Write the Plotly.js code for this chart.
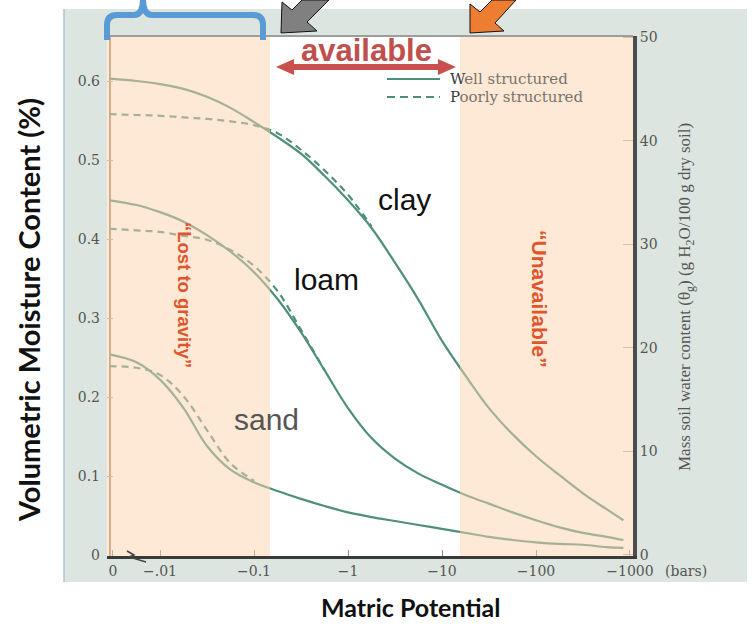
<!DOCTYPE html>
<html>
<head>
<meta charset="utf-8">
<script src="https://cdn.plot.ly/plotly-3.0.1.min.js"></script>
<style>html,body{margin:0;padding:0;background:#fff;}#chart{width:752px;height:624px;}</style>
</head>
<body>
<div id="chart"></div>
<script>
// ---- data: matric suction magnitude (bars, plotted on a log axis) and volumetric water content ----
const suctionBars = [0.0029, 0.00562, 0.01, 0.0178, 0.0316, 0.0562, 0.1, 0.178, 0.316, 0.562, 1, 1.78,
                     3.16, 5.62, 10, 17.8, 31.6, 56.2, 100, 178, 316, 562, 851];
const claySolid = [0.603, 0.600, 0.596, 0.590, 0.580, 0.566, 0.548, 0.529, 0.508, 0.480, 0.449, 0.414,
                   0.370, 0.323, 0.271, 0.227, 0.186, 0.153, 0.125, 0.101, 0.078, 0.058, 0.044];
const clayPoor  = [0.558, 0.557, 0.556, 0.554, 0.552, 0.549, 0.544, 0.534, 0.513, 0.487, 0.456, 0.416];
const loamSolid = [0.449, 0.443, 0.434, 0.422, 0.405, 0.384, 0.358, 0.324, 0.282, 0.234, 0.186, 0.148,
                   0.122, 0.103, 0.089, 0.076, 0.065, 0.054, 0.044, 0.035, 0.028, 0.023, 0.019];
const loamPoor  = [0.413, 0.411, 0.409, 0.404, 0.399, 0.386, 0.366, 0.334, 0.285, 0.234];
const sandSolid = [0.254, 0.244, 0.222, 0.186, 0.138, 0.108, 0.092, 0.081, 0.071, 0.062, 0.054, 0.048,
                   0.043, 0.038, 0.033, 0.028, 0.023, 0.019, 0.016, 0.014, 0.013, 0.010, 0.009];
const sandPoor  = [0.239, 0.237, 0.228, 0.201, 0.158, 0.116, 0.094];

const xTickVals = [0.00316, 0.01, 0.1, 1, 10, 100, 1000];
const xTickText = ['0', '\u2212.01', '\u22120.1', '\u22121', '\u221210', '\u2212100', '\u22121000'];
const yTickVals = [0, 0.1, 0.2, 0.3, 0.4, 0.5, 0.6];
const yTickText = ['0', '0.1', '0.2', '0.3', '0.4', '0.5', '0.6'];
const y2TickVals = [0, 10, 20, 30, 40, 50];
const y2TickText = ['0', '10', '20', '30', '40', '50'];

// ---- layout helpers (pixel -> paper) ----
const L = 107, R = 633, T = 36, B = 556;
const px = x => (x - L) / (R - L);
const py = y => (B - y) / (B - T);
const path = pts => 'M' + pts.map(p => px(p[0]).toFixed(5) + ',' + py(p[1]).toFixed(5)).join(' L') + ' Z';

const TEAL = '#4f8f7b';
function curve(y, dash) {
  return {x: suctionBars.slice(0, y.length), y: y, type: 'scatter', mode: 'lines', hoverinfo: 'skip', showlegend: false,
          line: {color: TEAL, width: 2.2, shape: 'spline', smoothing: 1, dash: dash ? '7px,5px' : 'solid'}};
}

const traces = [
  curve(claySolid, false), curve(clayPoor, true),
  curve(loamSolid, false), curve(loamPoor, true),
  curve(sandSolid, false), curve(sandPoor, true),
  {x: [null], y: [null], yaxis: 'y2', type: 'scatter', mode: 'lines', hoverinfo: 'skip', showlegend: false}
];

const shapes = [
  {type: 'rect', xref: 'paper', yref: 'paper', x0: px(64), x1: px(747), y0: py(582), y1: py(9),
   fillcolor: '#dce5df', line: {width: 0}, layer: 'below'},
  {type: 'line', xref: 'paper', yref: 'paper', x0: px(64), x1: px(64), y0: py(582), y1: py(9),
   line: {color: '#aac3dc', width: 1.5}, layer: 'below'},
  {type: 'rect', xref: 'paper', yref: 'paper', x0: 0, x1: 1, y0: 0, y1: 1,
   fillcolor: '#ffffff', line: {width: 0}, layer: 'below'},
  {type: 'line', xref: 'paper', yref: 'paper', x0: px(110), x1: px(110), y0: 0, y1: 1,
   line: {color: '#b08a66', width: 2}, layer: 'below'},
  {type: 'rect', xref: 'paper', yref: 'paper', x0: 0, x1: px(270), y0: 0, y1: 1,
   fillcolor: 'rgba(251,211,173,0.5)', line: {width: 0}, layer: 'above'},
  {type: 'rect', xref: 'paper', yref: 'paper', x0: px(460), x1: 1, y0: 0, y1: 1,
   fillcolor: 'rgba(251,211,173,0.5)', line: {width: 0}, layer: 'above'},
  {type: 'line', xref: 'paper', yref: 'paper', x0: 0, x1: 1, y0: 1, y1: 1,
   line: {color: '#9d9d9d', width: 2}, layer: 'above'},
  {type: 'line', xref: 'paper', yref: 'paper', x0: px(387), x1: px(440), y0: py(79), y1: py(79),
   line: {color: TEAL, width: 2.2}, layer: 'above'},
  {type: 'line', xref: 'paper', yref: 'paper', x0: px(387), x1: px(440), y0: py(97), y1: py(97),
   line: {color: TEAL, width: 2.2, dash: '8px,5px'}, layer: 'above'},
  {type: 'path', xref: 'paper', yref: 'paper', layer: 'above', fillcolor: '#c9504c', line: {width: 0},
   path: path([[276,67],[294,59],[294,64],[438,64],[438,59],[456,67],[438,75],[438,70],[294,70],[294,75]])},
  {type: 'path', xref: 'paper', yref: 'paper', layer: 'above', fillcolor: '#808080', line: {color: '#111', width: 1},
   path: path([[281,33],[282,2],[292,10],[302,0],[329,0],[307,22],[317,31]])},
  {type: 'path', xref: 'paper', yref: 'paper', layer: 'above', fillcolor: '#ed7d31', line: {color: '#111', width: 1},
   path: path([[470,33],[470,4],[480,12],[492,0],[516,0],[495,23],[504,31]])},
  {type: 'path', xref: 'paper', yref: 'paper', layer: 'above', fillcolor: 'rgba(0,0,0,0)', line: {color: '#444', width: 1.5},
   path: 'M' + px(127) + ',' + py(551) + ' L' + px(134) + ',' + py(555) + ' L' + px(129) + ',' + py(557) + ' L' + px(146) + ',' + py(562)}
];
shapes.push({type: 'path', xref: 'paper', yref: 'paper', layer: 'above', fillcolor: 'rgba(0,0,0,0)',
  line: {color: '#5b9bd5', width: 6},
  path: 'M' + px(107) + ',' + py(40) + ' L' + px(107) + ',' + py(25) +
        ' Q' + px(107) + ',' + py(15) + ' ' + px(117) + ',' + py(15) +
        ' L' + px(134) + ',' + py(15) +
        ' Q' + px(143) + ',' + py(15) + ' ' + px(143) + ',' + py(-2) +
        ' Q' + px(143) + ',' + py(15) + ' ' + px(152) + ',' + py(15) +
        ' L' + px(253) + ',' + py(15) +
        ' Q' + px(263) + ',' + py(15) + ' ' + px(263) + ',' + py(25) +
        ' L' + px(263) + ',' + py(40)});

function ann(text, x, y, font, extra) {
  return Object.assign({text: text, xref: 'paper', yref: 'paper', x: px(x), y: py(y), showarrow: false,
    xanchor: 'center', yanchor: 'middle', font: font}, extra || {});
}
const annotations = [
  ann('Volumetric Moisture Content (%)', 28, 310, {family: 'Lato', size: 29, color: '#111', weight: 'bold'}, {textangle: -90}),
  ann('Matric Potential', 410, 607, {family: 'Lato', size: 25, color: '#111', weight: 'bold'}),
  ann('Mass soil water content (\u03b8<sub>g</sub>) (g H<sub>2</sub>O/100 g dry soil)', 686, 297,
      {family: 'Liberation Serif', size: 17, color: '#555'}, {textangle: -90}),
  ann('(bars)', 686, 571, {family: 'DejaVu Serif', size: 14, color: '#555'}),
  ann('<b>available</b>', 366, 50, {family: 'Liberation Sans', size: 31, color: '#c0504d'}),
  ann('<span style="color:#3a3a3a">W</span>ell structured', 448, 79, {family: 'DejaVu Serif', size: 15, color: '#7a736b'}, {xanchor: 'left'}),
  ann('<span style="color:#3a3a3a">P</span>oorly structured', 448, 97, {family: 'DejaVu Serif', size: 15, color: '#7a736b'}, {xanchor: 'left'}),
  ann('clay', 404, 199, {family: 'Liberation Sans', size: 30, color: '#111'}),
  ann('loam', 326, 279, {family: 'Liberation Sans', size: 30, color: '#111'}),
  ann('sand', 266, 419, {family: 'Liberation Sans', size: 30, color: '#555'}),
  ann('<b>\u201cLost to gravity\u201d</b>', 185, 295, {family: 'Liberation Sans', size: 18.5, color: '#e0552b'}, {textangle: 90}),
  ann('<b>\u201cUnavailable\u201d</b>', 540, 299, {family: 'Liberation Sans', size: 21, color: '#e0552b'}, {textangle: 90})
];

const layout = {
  width: 752, height: 624,
  margin: {l: L, r: 752 - R, t: T, b: 624 - B, pad: 0},
  paper_bgcolor: '#ffffff', plot_bgcolor: 'rgba(0,0,0,0)',
  showlegend: false,
  xaxis: {type: 'log', range: [-2.564, 3.032], tickvals: xTickVals, ticktext: xTickText,
          ticks: 'inside', ticklen: 6, tickcolor: '#888', showline: true, linecolor: '#3a3a3a', linewidth: 3,
          showgrid: false, zeroline: false, tickfont: {family: 'DejaVu Serif', size: 14, color: '#555'}, automargin: false},
  yaxis: {range: [-0.00127, 0.657], tickvals: yTickVals, ticktext: yTickText,
          ticks: 'inside', ticklen: 6, tickcolor: '#aaa', showline: false, showgrid: false, zeroline: false,
          ticklabelstandoff: 6,
          tickfont: {family: 'DejaVu Serif', size: 14, color: '#555'}, automargin: false},
  yaxis2: {overlaying: 'y', side: 'right', range: [-0.1, 50.1], tickvals: y2TickVals, ticktext: y2TickText,
           ticks: 'inside', ticklen: 10, tickcolor: '#aaa', showline: true, linecolor: '#4d4d4d', linewidth: 4,
           showgrid: false, zeroline: false, tickfont: {family: 'DejaVu Serif', size: 14, color: '#555'}, automargin: false},
  shapes: shapes,
  annotations: annotations
};

Plotly.newPlot('chart', traces, layout, {staticPlot: true, displayModeBar: false});
</script>
</body>
</html>
